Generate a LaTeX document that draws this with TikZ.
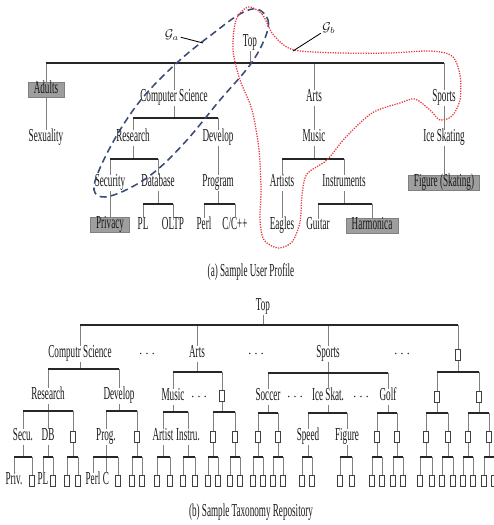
\documentclass[tikz,border=0pt]{standalone}
\usepackage{fontspec}
\setmainfont{Liberation Serif}[FakeStretch=0.5]
\definecolor{navy}{HTML}{3A4A78}
\definecolor{dotred}{HTML}{E8383D}
\newcommand{\kids}[3]{%
  \draw[stem] (#1) -- (#1 |- 0,#2);
  \foreach \c in {#3} {
    \draw[stem] (\c |- 0,#2) -- (\c);
    \draw[bar] (#1 |- 0,#2) -- (\c |- 0,#2);
  }}
\begin{document}
\begin{tikzpicture}[x=0.025cm,y=-0.025cm,
  font=\fontsize{13}{14}\selectfont,
  every node/.style={inner sep=1pt,text height=1.55ex,text depth=.4ex,text=black!90},
  hl/.style={fill=black!38,draw=black!50,inner xsep=4pt,inner ysep=1pt},
  sq/.style={draw=black!75,line width=.5pt,inner sep=0pt,text height=0pt,text depth=0pt,minimum width=3.2pt,minimum height=7.8pt},
  dts/.style={font=\fontsize{10}{11}\selectfont},
  glab/.style={font=\fontsize{9}{10}\selectfont},
  bar/.style={line width=.8pt,black!85},
  stem/.style={line width=.6pt,black!50},
  grpa/.style={navy,line width=1.1pt,dash pattern=on 5pt off 3pt},
  grpb/.style={dotred,line width=.9pt,dash pattern=on .9pt off .9pt}]
\useasboundingbox (0,0) rectangle (493,525);
\node (topa) at (250,43) {Top};
\node[hl] (adults) at (46,90) {Adults};
\node (cs) at (174,98) {Computer Science};
\node (arts) at (314,98) {Arts};
\node (sports) at (444,98) {Sports};
\node (sexuality) at (46,138) {Sexuality};
\node (research) at (133,138) {Research};
\node (develop) at (218,138) {Develop};
\node (music) at (314,138) {Music};
\node (iceskating) at (444,138) {Ice Skating};
\node (security) at (110,183) {Security};
\node (database) at (158,183) {Database};
\node (program) at (218,183) {Program};
\node (artists) at (282,183) {Artists};
\node (instruments) at (344,183) {Instruments};
\node[hl] (figure) at (444,183) {Figure (Skating)};
\node[hl] (privacy) at (110,225) {Privacy};
\node (pl) at (143,226) {PL};
\node (oltp) at (173,226) {OLTP};
\node (perl) at (204,226) {Perl};
\node (cpp) at (235,226) {C/C++};
\node (eagles) at (282,226) {Eagles};
\node (guitar) at (318,226) {Guitar};
\node[hl] (harmonica) at (372,226) {Harmonica};
\node (capa) at (251,273) {(a) Sample User Profile};
\kids{topa}{63}{adults,cs,arts,sports}
\kids{adults}{120}{sexuality}
\kids{cs}{118}{research,develop}
\kids{arts}{118}{music}
\kids{sports}{118}{iceskating}
\kids{research}{159}{security,database}
\kids{develop}{159}{program}
\kids{music}{159}{artists,instruments}
\kids{iceskating}{159}{figure}
\kids{security}{204}{privacy}
\kids{database}{204}{pl,oltp}
\kids{program}{204}{perl,cpp}
\kids{artists}{204}{eagles}
\kids{instruments}{204}{guitar,harmonica}
\draw[grpa] plot[smooth cycle,tension=.6] coordinates {(257,9) (268,20) (265,38) (250,65) (220,100) (187,140) (157,170) (130,188) (105,197) (94,190) (100,168) (120,130) (145,95) (180,60) (215,32) (240,14)};
\draw[grpb] plot[smooth cycle] coordinates {(248,7) (262,14) (272,33) (285,46) (300,51) (340,53) (390,53) (430,51) (452,56) (460,75) (460,100) (452,116) (440,120) (430,110) (415,99) (400,103) (372,113) (345,138) (327,160) (307,174) (302,195) (300,222) (292,242) (278,248) (264,240) (260,220) (261,190) (259,150) (252,110) (240,80) (233,50) (236,20)};
\node[glab] (ga) at (172,35) {$\mathcal{G}_a$};
\coordinate (gatip) at (203,43);
\draw[line width=.6pt] (ga) -- (gatip);
\node[glab] (gb) at (329,28) {$\mathcal{G}_b$};
\coordinate (gbtip) at (293,51);
\draw[line width=.6pt] (gb) -- (gbtip);
\node (topb) at (263,307) {Top};
\node (cs2) at (80,354) {Computr Science};
\node[dts] (d1) at (147,354) {$\cdots$};
\node (arts2) at (197,354) {Arts};
\node[dts] (d2) at (256,354) {$\cdots$};
\node (sports2) at (328,354) {Sports};
\node[dts] (d3) at (402,354) {$\cdots$};
\node[sq] (b458) at (458,355) {};
\node (research2) at (48,396) {Research};
\node (develop2) at (119,396) {Develop};
\node (music2) at (173,397) {Music};
\node[dts] (d4) at (199,397) {$\cdots$};
\node[sq] (n222) at (222,396) {};
\node (soccer) at (268,397) {Soccer};
\node[dts] (d5) at (295,397) {$\cdots$};
\node (iceskat) at (328,397) {Ice Skat.};
\node[dts] (d6) at (361,397) {$\cdots$};
\node (golf) at (388,397) {Golf};
\node[sq] (n437) at (437,397) {};
\node[sq] (n479) at (479,397) {};
\node (secu) at (23,437) {Secu.};
\node (db) at (48,437) {DB};
\node (prog) at (106,437) {Prog.};
\node (artist) at (163,437) {Artist};
\node (instru) at (188,437) {Instru.};
\node (speed) at (308,437) {Speed};
\node (figureb) at (347,437) {Figure};
\foreach \x in {73,137,213,235,258,278,377,397,426,448,468,489}
  \node[sq] (m\x) at (\x,437) {};
\node (priv) at (14,481) {Priv.};
\node (plb) at (43,481) {PL};
\node (perlb) at (93,481) {Perl};
\node (cc) at (106,481) {C};
\foreach \x in {32,53,67,78,118,132,142,157,170,183,195,208,218,230,240,253,263,273,283,302,312,340,352,372,382,393,403,420,432,442,453,463,473,484,494}
  \node[sq] (l\x) at (\x,481) {};
\node (capb) at (251,513) {(b) Sample Taxonomy Repository};
\kids{topb}{325}{cs2,arts2,sports2,b458}
\kids{cs2}{369}{research2,develop2}
\kids{arts2}{372}{music2,n222}
\kids{sports2}{373}{soccer,iceskat,golf}
\kids{b458}{372}{n437,n479}
\kids{research2}{411}{secu,db,m73}
\kids{develop2}{411}{prog,m137}
\kids{music2}{412}{artist,instru}
\kids{n222}{412}{m213,m235}
\kids{soccer}{413}{m258,m278}
\kids{iceskat}{413}{speed,figureb}
\kids{golf}{413}{m377,m397}
\kids{n437}{413}{m426,m448}
\kids{n479}{413}{m468,m489}
\kids{secu}{457}{priv,l32}
\kids{db}{457}{plb,l53}
\kids{m73}{457}{l67,l78}
\kids{prog}{457}{perlb,cc,l118}
\kids{m137}{457}{l132,l142}
\kids{artist}{457}{l157,l170}
\kids{instru}{457}{l183,l195}
\kids{m213}{457}{l208,l218}
\kids{m235}{457}{l230,l240}
\kids{m258}{457}{l253,l263}
\kids{m278}{457}{l273,l283}
\kids{speed}{457}{l302,l312}
\kids{figureb}{457}{l340,l352}
\kids{m377}{457}{l372,l382}
\kids{m397}{457}{l393,l403}
\kids{m426}{457}{l420,l432}
\kids{m448}{457}{l442,l453}
\kids{m468}{457}{l463,l473}
\kids{m489}{457}{l484,l494}
\end{tikzpicture}
\end{document}
